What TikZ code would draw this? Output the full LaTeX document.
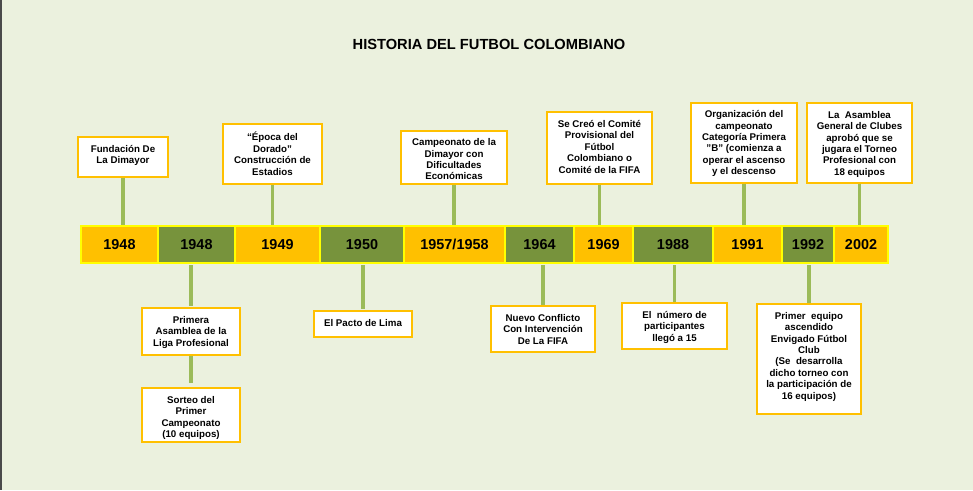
\documentclass[tikz,border=0pt]{standalone}
\usepackage{fontspec}
\setmainfont{Liberation Sans}
\usetikzlibrary{positioning,calc,fit}
\definecolor{fondo}{HTML}{EBF1DE}
\definecolor{ambar}{HTML}{FFC000}
\definecolor{oliva}{HTML}{77933C}
\definecolor{enlace}{HTML}{9BBB59}
\definecolor{borde}{HTML}{FFFF00}
\definecolor{margen}{HTML}{4A4A4A}

\begin{document}
\begin{tikzpicture}
[x=0.75pt, y=-0.75pt,
every node/.style={font=\bfseries},
seg/.style={draw=borde, line width=1.5pt, inner sep=0pt},
anio/.style={font=\bfseries\fontsize{10.8}{12}\selectfont, inner sep=0pt},
caja/.style={draw=ambar, fill=white, line width=1pt, inner sep=0pt},
txt/.style={anchor=north, align=center, inner sep=0pt, font=\bfseries\fontsize{7.3}{8.55}\selectfont},
edge/.style={enlace, line width=2.4pt}]
%%
\useasboundingbox (0,0) rectangle (973,490);
\fill[fondo] (0,0) rectangle (973,490);
\fill[margen] (0,0) rectangle (2,490);
%%
\node (titulo) at (489,44) {\fontsize{11}{13}\selectfont HISTORIA DEL FUTBOL COLOMBIANO};
%%
%% linea de tiempo
\node[seg, fill=ambar, fit={(81,226) (158,263)}] (s1) {};
\node[seg, fill=oliva, fit={(158,226) (235,263)}] (s2) {};
\node[seg, fill=ambar, fit={(235,226) (320,263)}] (s3) {};
\node[seg, fill=oliva, fit={(320,226) (404,263)}] (s4) {};
\node[seg, fill=ambar, fit={(404,226) (505,263)}] (s5) {};
\node[seg, fill=oliva, fit={(505,226) (574,263)}] (s6) {};
\node[seg, fill=ambar, fit={(574,226) (633,263)}] (s7) {};
\node[seg, fill=oliva, fit={(633,226) (713,263)}] (s8) {};
\node[seg, fill=ambar, fit={(713,226) (782,263)}] (s9) {};
\node[seg, fill=oliva, fit={(782,226) (834,263)}] (s10) {};
\node[seg, fill=ambar, fit={(834,226) (888,263)}] (s11) {};
%%
\node[anio] (a1) at (s1) {1948};
\node[anio] (a2) at (s2) {1948};
\node[anio] (a3) at (s3) {1949};
\node[anio] (a4) at (s4) {1950};
\node[anio] (a5) at (s5) {1957/1958};
\node[anio] (a6) at (s6) {1964};
\node[anio] (a7) at (s7) {1969};
\node[anio] (a8) at (s8) {1988};
\node[anio] (a9) at (s9) {1991};
\node[anio] (a10) at (s10) {1992};
\node[anio] (a11) at (s11) {2002};
%%
%% arriba
\node[caja, fit={(78,137) (168,177)}] (t1) {};
\node[txt, below=6.5pt of t1.north] (t1t) {Fundación De\\La Dimayor};
\node[caja, fit={(223,124) (322,184)}] (t2) {};
\node[txt, below=6.5pt of t2.north] (t2t) {“Época del\\Dorado"\\Construcción de\\Estadios};
\node[caja, fit={(401,131) (507,184)}] (t3) {};
\node[txt, below=6pt of t3.north] (t3t) {Campeonato de la\\Dimayor con\\Dificultades\\Económicas};
\node[caja, fit={(547,112) (652,184)}] (t4) {};
\node[txt, below=6.5pt of t4.north] (t4t) {Se Creó el Comité\\Provisional del\\Fútbol\\Colombiano o\\Comité de la FIFA};
\node[caja, fit={(691,103) (797,183)}] (t5) {};
\node[txt, below=6pt of t5.north] (t5t) {Organización del\\campeonato\\Categoría Primera\\"B" (comienza a\\operar el ascenso\\y el descenso};
\node[caja, fit={(807,103) (912,183)}] (t6) {};
\node[txt, below=6.5pt of t6.north] (t6t) {La~ Asamblea\\General de Clubes\\aprobó que se\\jugara el Torneo\\Profesional con\\18 equipos};
%%
%% abajo
\node[caja, fit={(142,308) (240,355)}] (b1) {};
\node[txt, below=6.5pt of b1.north] (b1t) {Primera\\Asamblea de la\\Liga Profesional};
\node[caja, fit={(142,388) (240,442)}] (b2) {};
\node[txt, below=6.5pt of b2.north] (b2t) {Sorteo del\\Primer\\Campeonato\\(10 equipos)};
\node[caja, fit={(314,311) (412,337)}] (b3) {};
\node[txt, below=6.5pt of b3.north] (b3t) {El Pacto de Lima};
\node[caja, fit={(491,306) (595,352)}] (b4) {};
\node[txt, below=6.5pt of b4.north] (b4t) {Nuevo Conflicto\\Con Intervención\\De La FIFA};
\node[caja, fit={(622,303) (727,349)}] (b5) {};
\node[txt, below=6.5pt of b5.north] (b5t) {El~ número de\\participantes\\llegó a 15};
\node[caja, fit={(757,304) (861,414)}] (b6) {};
\node[txt, below=6.5pt of b6.north] (b6t) {Primer~ equipo\\ascendido\\Envigado Fútbol\\Club\\(Se~ desarrolla\\dicho torneo con\\la participación de\\16 equipos)};
%%
%% enlaces
\draw[edge] (t1.south) -- (t1.south |- s1.north);
\draw[edge] (t2.south) -- (t2.south |- s3.north);
\draw[edge] (t3.south) -- (t3.south |- s5.north);
\draw[edge] (t4.south) -- (t4.south |- s7.north);
\draw[edge] (t5.south) -- (t5.south |- s9.north);
\draw[edge] (t6.south) -- (t6.south |- s11.north);
\draw[edge, shorten <=1pt, shorten >=1pt] (b1.north |- s2.south) -- (b1.north);
\draw[edge, shorten >=3pt] (b1.south) -- (b2.north);
\draw[edge, shorten <=1pt, shorten >=1pt] (b3.north |- s4.south) -- (b3.north);
\draw[edge, shorten <=1pt] (b4.north |- s6.south) -- (b4.north);
\draw[edge, shorten <=1pt] (b5.north |- s8.south) -- (b5.north);
\draw[edge, shorten <=1pt] (b6.north |- s10.south) -- (b6.north);
\end{tikzpicture}
\end{document}
